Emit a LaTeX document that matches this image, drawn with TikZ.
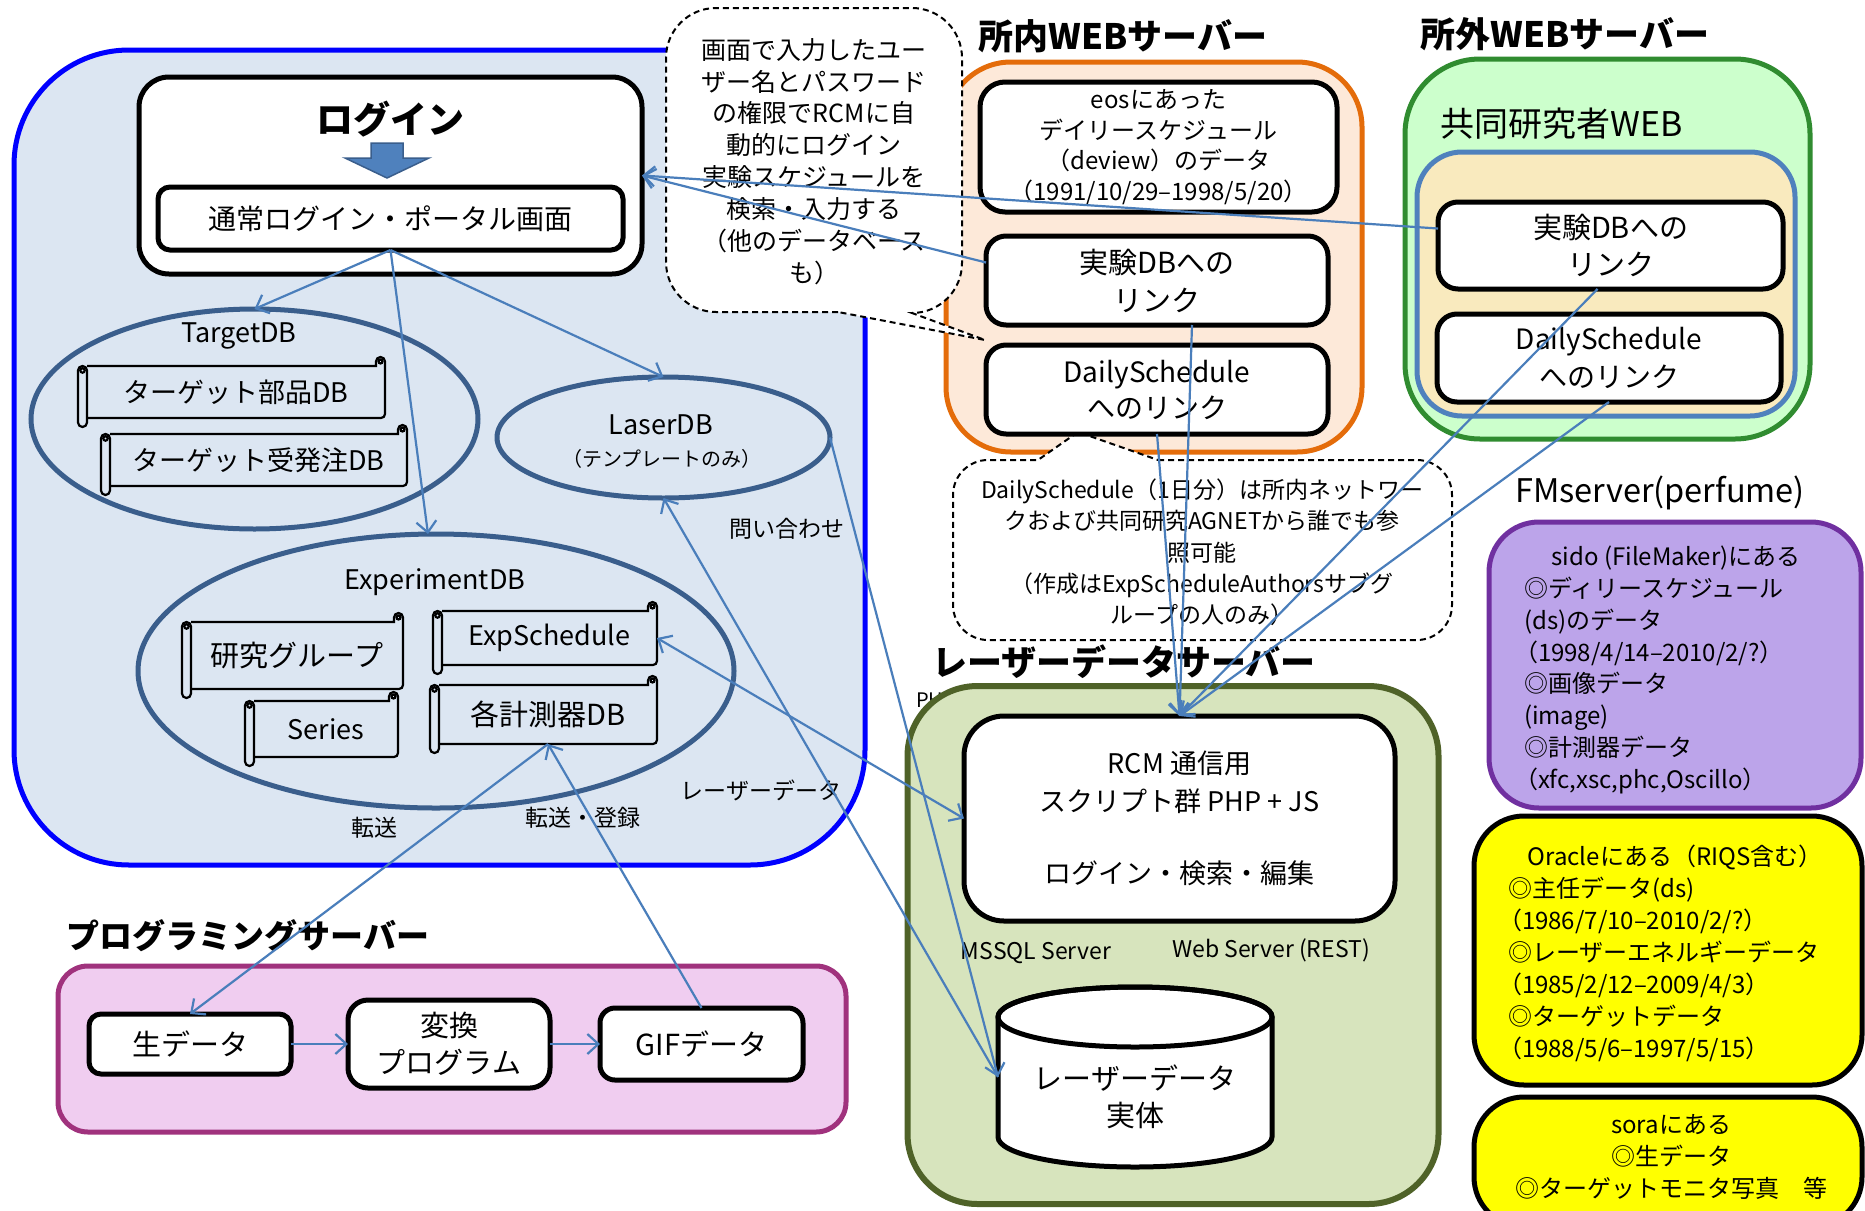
\documentclass[tikz,border=0pt]{standalone}
\usepackage{fontspec}
\setmainfont{Noto Sans CJK JP}
\usetikzlibrary{shapes.geometric,arrows.meta,calc}

\definecolor{bgblue}{RGB}{220,230,242}
\definecolor{blueB}{RGB}{0,0,255}
\definecolor{ellcol}{RGB}{58,94,140}
\definecolor{steel}{RGB}{79,129,189}
\definecolor{conncol}{RGB}{74,126,187}
\definecolor{orangeF}{RGB}{253,233,217}
\definecolor{orangeB}{RGB}{228,108,10}
\definecolor{greenF}{RGB}{204,255,204}
\definecolor{greenB}{RGB}{48,140,48}
\definecolor{beigeF}{RGB}{249,234,190}
\definecolor{oliveF}{RGB}{215,228,189}
\definecolor{oliveB}{RGB}{79,98,40}
\definecolor{pinkF}{RGB}{240,205,240}
\definecolor{pinkB}{RGB}{160,50,125}
\definecolor{purpleF}{RGB}{188,164,234}
\definecolor{purpleB}{RGB}{112,48,160}
\definecolor{yel}{RGB}{255,255,0}

\newcommand{\myfs}[2]{\fontsize{#1pt}{#2pt}\selectfont}
\newcommand{\kp}{\kern-10pt}

\newcommand{\scrollbox}[4]{%
  \pgfmathsetmacro\sxa{#1}\pgfmathsetmacro\sya{#2}%
  \pgfmathsetmacro\sxb{#3}\pgfmathsetmacro\syb{#4}%
  \fill[bgblue] ({\sxa+9},{\sya+9}) rectangle (\sxb,{\syb-9});
  \draw[scrl] ({\sxa+9},{\sya+9}) -- ({\sxb-9},{\sya+9}) -- ({\sxb-9},{\sya+4.5})
     arc[start angle=180,end angle=360,radius=4.5] -- (\sxb,{\syb-13})
     arc[start angle=0,end angle=90,radius=4] -- ({\sxa+9},{\syb-9});
  \draw[scrl] ({\sxb-4.5},{\sya+4.5}) circle[radius=2];
  \draw[scrl,fill=bgblue,rounded corners=4.5pt] (\sxa,{\sya+9}) rectangle ({\sxa+9},\syb);
  \draw[scrl] ({\sxa+4.5},{\sya+13.5}) circle[radius=2.2];
}

\begin{document}
\begin{tikzpicture}[x=1pt,y=-1pt,
  every node/.style={inner sep=0pt,outer sep=0pt},
  cont/.style={draw,rectangle,line width=5pt},
  wbox/.style={draw=black,fill=white,rectangle,line width=5pt,align=center},
  ell/.style={ellipse,draw=ellcol,line width=5pt},
  scrl/.style={draw=black,line width=2.2pt},
  conn/.style={draw=conncol,line width=2.2pt,-{Straight Barb[length=11pt,width=20pt]}},
  conn2/.style={draw=conncol,line width=2.2pt,{Straight Barb[length=11pt,width=20pt]}-{Straight Barb[length=11pt,width=20pt]}},
  dcall/.style={draw=black,fill=white,line width=2pt,dash pattern=on 6pt off 4pt},
  lbl/.style={font=\myfs{23}{27}},
]
\useasboundingbox (0,0) rectangle (1865,1210);
\clip (0,0) rectangle (1865,1210);
\fill[white] (0,0) rectangle (1865,1210);

% ---------- containers ----------
\node[cont,draw=blueB,fill=bgblue,rounded corners=115pt,minimum width=851pt,minimum height=815pt] (blueC) at (439.5,457.5) {};
\node[anchor=west,font=\myfs{20}{24}] (php) at (916,700) {PHP};
\node[cont,draw=orangeB,fill=orangeF,rounded corners=65pt,minimum width=416pt,minimum height=390pt] (orangeC) at (1154,257) {};
\node[cont,draw=greenB,fill=greenF,rounded corners=75pt,minimum width=405pt,minimum height=380pt] (greenC) at (1607.5,249) {};
\node[cont,draw=steel,fill=beigeF,rounded corners=45pt,minimum width=378pt,minimum height=264pt] (beigeC) at (1606,284) {};
\node[cont,draw=oliveB,fill=oliveF,line width=6pt,rounded corners=70pt,minimum width=531pt,minimum height=518pt] (oliveC) at (1173,945) {};
\node[cont,draw=pinkB,fill=pinkF,rounded corners=30pt,minimum width=788pt,minimum height=166pt] (pinkC) at (452,1049) {};
\node[cont,draw=purpleB,fill=purpleF,rounded corners=50pt,minimum width=372pt,minimum height=286pt] (purpleC) at (1675,665) {};
\node[cont,draw=black,fill=yel,rounded corners=50pt,minimum width=388pt,minimum height=269pt] (yel1) at (1668,950.5) {};
\node[cont,draw=black,fill=yel,rounded corners=50pt,minimum width=388pt,minimum height=130pt] (yel2) at (1668,1162) {};

% ---------- titles ----------
\node[font=\myfs{35}{40}\bfseries] (t1) at (1123,36) {所内WEBサーバー};
\node[font=\myfs{35}{40}\bfseries] (t2) at (1565,34) {所外WEBサーバー};
\node[font=\myfs{35}{40}\bfseries] (t3) at (1124,662) {レーザーデータサーバー};
\node[font=\myfs{33}{38}\bfseries] (t4) at (248,936) {プログラミングサーバー};
\node[font=\myfs{32.5}{37}] (t5) at (1660,493) {FMserver(perfume)};
\node[font=\myfs{34}{38}] (t6) at (1562,124) {共同研究者WEB};

% ---------- callouts ----------
\draw[dcall] (838,312) -- (716,312) arc[start angle=90,end angle=180,radius=50]
  -- (666,58) arc[start angle=180,end angle=270,radius=50]
  -- (912,8) arc[start angle=270,end angle=360,radius=50]
  -- (962,263) arc[start angle=0,end angle=90,radius=50]
  -- (985,340) -- cycle;
\node[align=center,font=\myfs{25}{31.9}] (call1) at (814,161.5)
  {画面で入力したユー\\ザー名とパスワード\\の権限でRCMに自\\動的にログイン\\実験スケジュールを\\検索・入力する\\（他のデータベース\\も）};
\draw[dcall] (1158,460) -- (1417,460) arc[start angle=270,end angle=360,radius=35]
  -- (1452,605) arc[start angle=0,end angle=90,radius=35]
  -- (988,640) arc[start angle=90,end angle=180,radius=35]
  -- (953,495) arc[start angle=180,end angle=270,radius=35]
  -- (1038,460) -- (1078,432) -- cycle;
\node[align=center,font=\myfs{23}{31.25}] (call2) at (1202,552.5)
  {DailySchedule（1日分）は所内ネットワー\\クおよび共同研究AGNETから誰でも参\\照可能\\（作成はExpScheduleAuthorsサブグ\\ループの人のみ）};

% ---------- login area ----------
\node[wbox,rounded corners=30pt,minimum width=503pt,minimum height=197pt] (login) at (390.5,175.5) {};
\node[font=\myfs{37}{42}\bfseries] (logintitle) at (390,119) {ログイン};
\draw[fill=steel,draw=ellcol,line width=1.5pt] (371,143) -- (403,143) -- (403,158) -- (429,158) -- (387,178) -- (345,158) -- (371,158) -- cycle;
\node[wbox,rounded corners=12pt,minimum width=465pt,minimum height=63pt,font=\myfs{28}{32}] (portal) at (390.5,218.5) {通常ログイン・ポータル画面};

% ---------- ellipses ----------
\node[ell,minimum width=447pt,minimum height=220pt] (tdb) at (254.5,419) {};
\node[ell,minimum width=333pt,minimum height=121pt] (laserdb) at (663.5,437.5) {};
\node[ell,minimum width=596pt,minimum height=274pt] (expdb) at (436,671) {};
\node[font=\myfs{27}{31}] (tdbl) at (239,336) {TargetDB};
\node[font=\myfs{27}{31}] (ldbl) at (661,425) {LaserDB};
\node[font=\myfs{20}{24}] (ldbl2) at (662,459) {（テンプレートのみ）};
\node[font=\myfs{27}{31}] (edbl) at (435,582) {ExperimentDB};

% ---------- scrolls ----------
\scrollbox{78}{357}{385}{427}
\node[font=\myfs{27}{31},minimum width=298pt,minimum height=52pt] (tgt1) at (236,392) {ターゲット部品DB};
\scrollbox{101}{425}{407}{495}
\node[font=\myfs{27}{31},minimum width=297pt,minimum height=52pt] (tgt2) at (258.5,460) {ターゲット受発注DB};
\scrollbox{182}{613}{403}{698}
\node[font=\myfs{29}{33},minimum width=212pt,minimum height=67pt] (grp) at (297,655.5) {研究グループ};
\scrollbox{433}{602}{657}{674}
\node[font=\myfs{27}{31},minimum width=215pt,minimum height=54pt] (esch) at (549.5,638) {ExpSchedule};
\scrollbox{245}{692}{398}{766}
\node[font=\myfs{27}{31},minimum width=144pt,minimum height=56pt] (ser) at (326,729) {Series};
\scrollbox{430}{676}{657}{753}
\node[font=\myfs{29}{33},minimum width=218pt,minimum height=59pt] (meas) at (548,714.5) {各計測器DB};

% ---------- web server boxes ----------
\node[wbox,rounded corners=25pt,minimum width=357pt,minimum height=130pt,font=\myfs{24}{30.7}] (eos) at (1158.5,147)
  {eosにあった\\デイリースケジュール\\（deview）のデータ\\（1991/10/29–1998/5/20）};
\node[wbox,rounded corners=20pt,minimum width=342pt,minimum height=89pt,font=\myfs{29}{38}] (olink1) at (1157,280.5) {実験DBへの\\リンク};
\node[wbox,rounded corners=20pt,minimum width=342pt,minimum height=89pt,font=\myfs{28}{36}] (odaily) at (1157,389.5) {DailySchedule\\へのリンク};
\node[wbox,rounded corners=20pt,minimum width=345pt,minimum height=87pt,font=\myfs{29}{37}] (glink1) at (1610.5,245.5) {実験DBへの\\リンク};
\node[wbox,rounded corners=20pt,minimum width=344pt,minimum height=88pt,font=\myfs{28}{38}] (gdaily) at (1609,358) {DailySchedule\\へのリンク};

% ---------- laser data server ----------
\node[wbox,rounded corners=40pt,minimum width=431pt,minimum height=205pt,font=\myfs{27}{38}] (rcm) at (1179.5,818.5)
  {RCM 通信用\\スクリプト群 PHP + JS\\[34pt]ログイン・検索・編集};
\node[font=\myfs{23}{27}] (mssql) at (1036,953) {MSSQL Server};
\node[font=\myfs{23}{27}] (websrv) at (1271,950) {Web Server (REST)};
\draw[fill=white,line width=5pt] (998,1017) -- (998,1137) arc[start angle=180,end angle=0,x radius=137,y radius=30]
  -- (1272,1017) arc[start angle=0,end angle=-180,x radius=137,y radius=30] -- cycle;
\draw[line width=5pt] (1135,1017) ellipse[x radius=137,y radius=30];
\node[minimum width=274pt,minimum height=180pt] (cyl) at (1135,1077) {};
\node[align=center,font=\myfs{29}{37}] (cyltxt) at (1135,1096.5) {レーザーデータ\\実体};

% ---------- programming server ----------
\node[wbox,rounded corners=12pt,minimum width=202pt,minimum height=60pt,font=\myfs{29}{33}] (raw) at (190,1044) {生データ};
\node[wbox,rounded corners=20pt,minimum width=202pt,minimum height=88pt,font=\myfs{29}{37}] (conv) at (449,1044) {変換\\プログラム};
\node[wbox,rounded corners=15pt,minimum width=203pt,minimum height=72pt,font=\myfs{29}{33}] (gif) at (701.5,1044) {GIFデータ};

% ---------- right side texts ----------
\node[font=\myfs{24}{31.8}] (fmh) at (1676,558) {sido (FileMaker)にある};
\node[anchor=west,align=left,font=\myfs{24}{31.8}] (fmb) at (1524,685.5)
  {◎ディリースケジュール\\(ds)のデータ\\\kp（1998/4/14–2010/2/?）\\◎画像データ\\(image)\\◎計測器データ\\\kp（xfc,xsc,phc,Oscillo）};
\node[font=\myfs{24}{32}] (orh) at (1675,857) {Oracleにある（RIQS含む）};
\node[anchor=west,align=left,font=\myfs{24}{32}] (orb) at (1508,969)
  {◎主任データ(ds)\\\kp（1986/7/10–2010/2/?）\\◎レーザーエネルギーデータ\\\kp（1985/2/12–2009/4/3）\\◎ターゲットデータ\\\kp（1988/5/6–1997/5/15）};
\node[align=center,font=\myfs{24}{32}] (sora) at (1671,1157) {soraにある\\◎生データ\\◎ターゲットモニタ写真　等};

% ---------- connector labels ----------
\node[lbl] (lq) at (787,529) {問い合わせ};
\node[lbl] (lld) at (761,790) {レーザーデータ};
\node[lbl] (lt) at (374,828) {転送};
\node[lbl] (ltr) at (583,818) {転送・登録};

% ---------- connectors ----------
\draw[conn] (portal.south) -- (tdb.north);
\draw[conn] (portal.south) -- ($(expdb.north)+(-8,0)$);
\draw[conn] (portal.south) -- (laserdb.north);
\draw[conn] ($(olink1.west)+(0,-18)$) -- (login.east);
\draw[conn] ($(glink1.west)+(0,-17)$) -- (login.east);
\draw[conn] ($(olink1.south)+(35,0)$) -- (rcm.north);
\draw[conn] (odaily.south) -- (rcm.north);
\draw[conn] ($(glink1.south)+(-13,0)$) -- (rcm.north);
\draw[conn] (gdaily.south) -- (rcm.north);
\draw[conn] (laserdb.east) -- (cyl.west);
\draw[conn] (cyl.west) -- (laserdb.south);
\draw[conn2] (esch.east) -- (rcm.west);
\draw[conn] (meas.south) -- (raw.north);
\draw[conn] (gif.north) -- (meas.south);
\draw[conn] (raw.east) -- (conv.west);
\draw[conn] (conv.east) -- (gif.west);
\end{tikzpicture}
\end{document}
